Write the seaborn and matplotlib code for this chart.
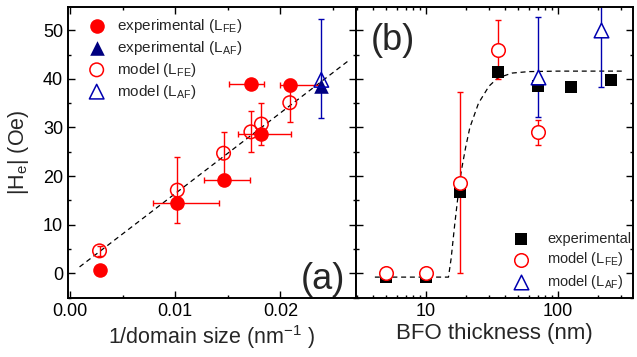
import numpy as np
import pandas as pd
import seaborn as sns
import matplotlib.pyplot as plt
from matplotlib.ticker import MultipleLocator, NullFormatter, FixedLocator

# ---- panel (a): H_e vs 1/domain size ----
inv_size = [0.0028, 0.0102, 0.0146, 0.0172, 0.0182, 0.0209]
he_exp_fe = [0.7, 14.4, 19.2, 39.0, 28.7, 38.8]
xerr_exp_lo = [0.0, 0.0023, 0.0019, 0.0021, 0.0022, 0.0009]
xerr_exp_hi = [0.0, 0.0040, 0.0025, 0.0012, 0.0028, 0.0029]
yerr_exp_fe = [0.0, 0.0, 0.0, 0.0, 0.0, 1.2]

he_mod_fe = [4.6, 17.1, 24.7, 29.1, 30.7, 35.1]
yerr_mod_fe = [1.0, 6.8, 4.3, 4.2, 4.3, 3.9]

inv_size_af = [0.0239]
he_exp_af = [38.6]
he_mod_af = [39.8]
yerr_mod_af_lo = [7.9]
yerr_mod_af_hi = [12.6]

fit_a_x = [0.0009, 0.0264]
fit_a_y = [1.3, 43.6]

# ---- panel (b): H_e vs BFO thickness ----
thk_exp = [5, 10, 18, 35, 70, 125, 250]
he_exp = [-0.8, -0.8, 16.8, 41.5, 38.5, 38.3, 39.8]

thk_fe = [5, 10, 18, 35, 70]
he_fe = [0.0, 0.0, 18.6, 46.0, 29.0]
yerr_fe = [0.0, 0.0, 18.6, 6.1, 2.6]

thk_af = [70, 210]
he_af = [40.3, 50.0]
yerr_af_lo = [8.1, 11.7]
yerr_af_hi = [12.5, 14.0]

fit_b_thk = [4.1, 14.8, 15.5, 16.5, 17.5, 18.5, 20, 21.5, 25, 30, 35, 45, 60, 100, 320]
fit_b_he = [-0.8, -0.8, 3, 10, 16, 21, 26, 30, 35, 38.5, 40.2, 41.2, 41.5, 41.6, 41.6]

RED = "#ff0000"
NAVY = "#000080"
BLUE = "#0000b0"

sns.set_theme(style="ticks")
plt.rcParams["font.family"] = ["Liberation Sans", "DejaVu Sans"]
plt.rcParams["mathtext.fontset"] = "custom"
plt.rcParams["mathtext.rm"] = "Liberation Sans"

fig = plt.figure(figsize=(6.37, 3.57), dpi=100)
ax_a = fig.add_axes([68 / 637, 1 - 298 / 357, (356 - 68) / 637, (298 - 6.5) / 357])
ax_b = fig.add_axes([356 / 637, 1 - 298 / 357, (633 - 356) / 637, (298 - 6.5) / 357])

# panel (a)
ax_a.plot(fit_a_x, fit_a_y, ls=(0, (4, 3)), color="black", lw=0.9, zorder=1)
ax_a.errorbar(inv_size, he_exp_fe, xerr=[xerr_exp_lo, xerr_exp_hi], yerr=yerr_exp_fe,
              fmt="none", ecolor=RED, elinewidth=1.0, capsize=2.5, capthick=1.0, zorder=2)
ax_a.errorbar(inv_size, he_mod_fe, yerr=yerr_mod_fe,
              fmt="none", ecolor=RED, elinewidth=1.0, capsize=2.5, capthick=1.0, zorder=2)
ax_a.errorbar(inv_size_af, he_mod_af, yerr=[yerr_mod_af_lo, yerr_mod_af_hi],
              fmt="none", ecolor=BLUE, elinewidth=1.0, capsize=2.5, capthick=1.0, zorder=2)

sns.scatterplot(x=inv_size, y=he_exp_fe, ax=ax_a, marker="o", s=110, color=RED,
                edgecolor=RED, linewidth=0, zorder=3, label=r"experimental (L$_\mathregular{FE}$)")
sns.scatterplot(x=inv_size_af, y=he_exp_af, ax=ax_a, marker="^", s=110, color=NAVY,
                edgecolor=NAVY, linewidth=0, zorder=3, label=r"experimental (L$_\mathregular{AF}$)")
sns.scatterplot(x=inv_size, y=he_mod_fe, ax=ax_a, marker="o", s=95, facecolor="none",
                edgecolor=RED, linewidth=1.1, zorder=4, label=r"model (L$_\mathregular{FE}$)")
sns.scatterplot(x=inv_size_af, y=he_mod_af, ax=ax_a, marker="^", s=110, facecolor="none",
                edgecolor=BLUE, linewidth=1.1, zorder=4, label=r"model (L$_\mathregular{AF}$)")

ax_a.set_xlim(-0.0002, 0.0272)
ax_a.set_ylim(-5.1, 54.9)
ax_a.xaxis.set_major_locator(FixedLocator([0.0, 0.01, 0.02]))
ax_a.set_xticklabels(["0.00", "0.01", "0.02"])
ax_a.xaxis.set_minor_locator(MultipleLocator(0.005))
ax_a.yaxis.set_major_locator(MultipleLocator(10))
ax_a.yaxis.set_minor_locator(MultipleLocator(5))
ax_a.set_xlabel(r"1/domain size (nm$^\mathregular{-1}$ )", fontsize=15.5, labelpad=2)
ax_a.set_ylabel(r"|H$_\mathregular{e}$| (Oe)", fontsize=15.5, labelpad=9)
ax_a.text(0.962, 0.005, "(a)", transform=ax_a.transAxes, fontsize=26, ha="right", va="bottom")
ax_a.legend(loc="upper left", bbox_to_anchor=(0.02, 1.0), frameon=False, fontsize=11,
            handletextpad=0.5, labelspacing=0.25, borderaxespad=0.3, handlelength=1.6)

# panel (b)
ax_b.plot(fit_b_thk, fit_b_he, ls=(0, (4, 3)), color="black", lw=0.9, zorder=1)
ax_b.errorbar(thk_fe, he_fe, yerr=yerr_fe, fmt="none", ecolor=RED, elinewidth=1.0,
              capsize=2.5, capthick=1.0, zorder=2)
ax_b.errorbar(thk_af, he_af, yerr=[yerr_af_lo, yerr_af_hi], fmt="none", ecolor=BLUE,
              elinewidth=1.0, capsize=2.5, capthick=1.0, zorder=2)
sns.scatterplot(x=thk_exp, y=he_exp, ax=ax_b, marker="s", s=70, color="black",
                edgecolor="black", linewidth=0, zorder=3, label="experimental")
sns.scatterplot(x=thk_fe, y=he_fe, ax=ax_b, marker="o", s=95, facecolor="white",
                edgecolor=RED, linewidth=1.1, zorder=4, label=r"model (L$_\mathregular{FE}$)")
sns.scatterplot(x=thk_af, y=he_af, ax=ax_b, marker="^", s=110, facecolor="white",
                edgecolor=BLUE, linewidth=1.1, zorder=4, label=r"model (L$_\mathregular{AF}$)")

ax_b.set_xscale("log")
ax_b.set_xlim(2.95, 370)
ax_b.set_ylim(-5.1, 54.9)
ax_b.set_xticks([10, 100])
ax_b.set_xticklabels(["10", "100"])
ax_b.xaxis.set_minor_formatter(NullFormatter())
ax_b.yaxis.set_major_locator(MultipleLocator(10))
ax_b.yaxis.set_minor_locator(MultipleLocator(5))
ax_b.set_yticklabels([])
ax_b.set_xlabel("BFO thickness (nm)", fontsize=16, labelpad=2)
ax_b.text(0.055, 0.945, "(b)", transform=ax_b.transAxes, fontsize=26, ha="left", va="top")
ax_b.legend(loc="lower right", bbox_to_anchor=(1.02, 0.0), frameon=False, fontsize=10.5,
            handletextpad=1.0, labelspacing=0.3, borderaxespad=0.1, handlelength=1.6)

for ax in (ax_a, ax_b):
    for sp in ax.spines.values():
        sp.set_linewidth(1.4)
        sp.set_color("black")
    ax.tick_params(which="both", direction="in", top=True, right=True, colors="black",
                   labelsize=13, width=1.0)
    ax.tick_params(which="major", length=5)
    ax.tick_params(which="minor", length=2.5)

fig.savefig("out.png", dpi=100)
